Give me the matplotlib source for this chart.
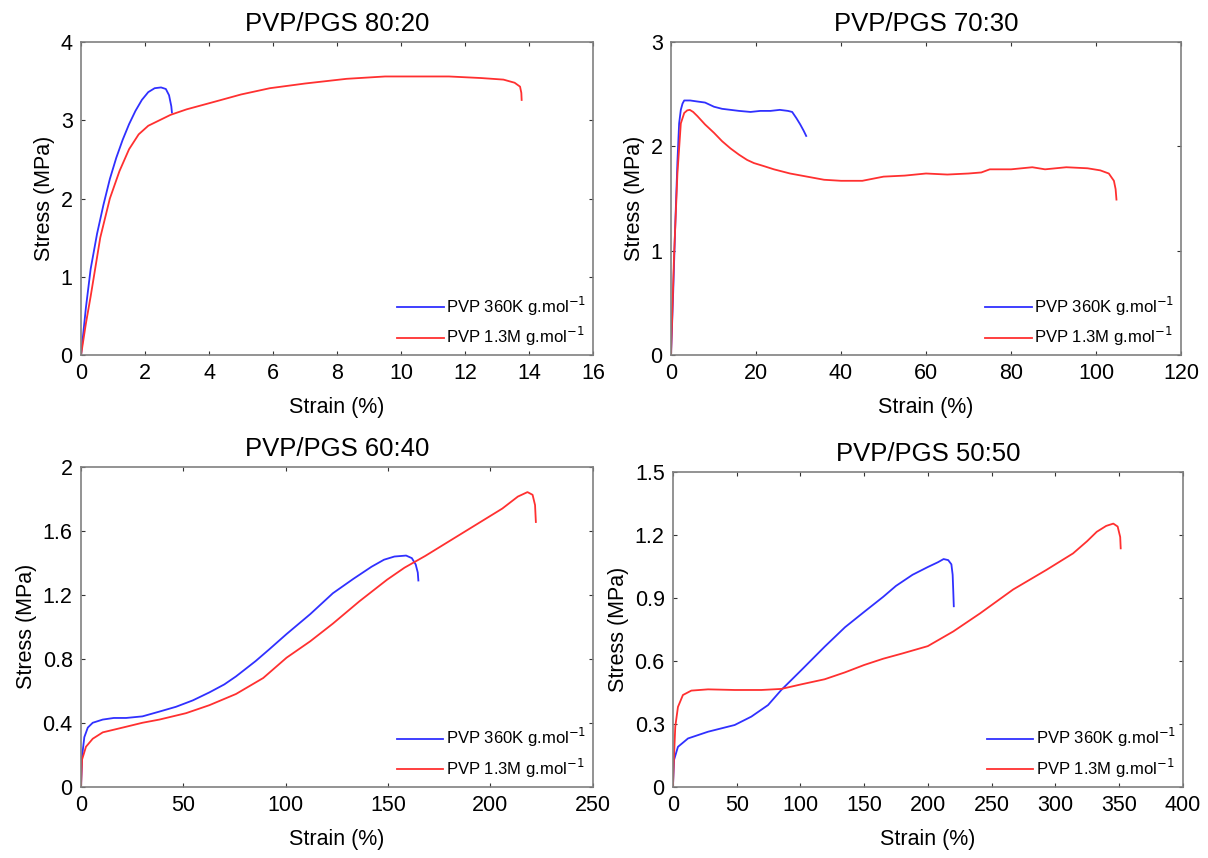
import matplotlib
matplotlib.use("Agg")
import matplotlib.pyplot as plt

plt.rcParams['font.family'] = ['Liberation Sans', 'DejaVu Sans']

# PVP/PGS 80:20
s80_360k_strain = [0, 0.15, 0.3, 0.5, 0.7, 0.9, 1.1, 1.3, 1.5, 1.7, 1.9, 2.1, 2.3, 2.5, 2.65, 2.75, 2.82, 2.84]
s80_360k_stress = [0, 0.6, 1.1, 1.55, 1.92, 2.25, 2.52, 2.75, 2.95, 3.12, 3.26, 3.36, 3.41, 3.42, 3.40, 3.32, 3.18, 3.1]
s80_13m_strain = [0, 0.15, 0.3, 0.6, 0.9, 1.2, 1.5, 1.8, 2.1, 2.4, 2.8, 3.3, 4.2, 5.0, 5.9, 7.0, 8.3, 9.5,
                  10.5, 11.5, 12.5, 13.2, 13.55, 13.72, 13.76, 13.77]
s80_13m_stress = [0, 0.4, 0.75, 1.5, 2.0, 2.35, 2.63, 2.82, 2.93, 2.99, 3.07, 3.14, 3.24, 3.33, 3.41, 3.47, 3.53, 3.56,
                  3.56, 3.56, 3.54, 3.52, 3.48, 3.43, 3.35, 3.26]

# PVP/PGS 70:30
s70_360k_strain = [0, 0.5, 1.0, 1.5, 1.9, 2.3, 2.7, 3.1, 4.5, 6.2, 8, 10.1, 12, 14, 16, 18.7, 21, 23.4, 25.6,
                   27.5, 28.5, 29.5, 30.4, 31.2, 31.8]
s70_360k_stress = [0, 0.6, 1.26, 1.85, 2.22, 2.35, 2.41, 2.44, 2.44, 2.43, 2.42, 2.38, 2.36, 2.35, 2.34, 2.33, 2.34,
                   2.34, 2.35, 2.34, 2.33, 2.27, 2.21, 2.15, 2.1]
s70_13m_strain = [0, 0.7, 1.5, 2.3, 3.1, 3.8, 4.4, 5.2, 6.2, 8, 10.1, 12, 14, 16, 17.9, 19.5, 21.9, 24.2, 28, 32, 36,
                  40, 45, 50, 55, 60, 65, 70, 73, 75, 80, 85, 88, 93, 98, 101, 103, 104.2, 104.6, 104.8]
s70_13m_stress = [0, 0.94, 1.74, 2.22, 2.32, 2.345, 2.35, 2.33, 2.29, 2.21, 2.13, 2.05, 1.98, 1.92, 1.87, 1.84, 1.81,
                  1.78, 1.74, 1.71, 1.68, 1.67, 1.67, 1.71, 1.72, 1.74, 1.73, 1.74, 1.75, 1.78, 1.78, 1.80, 1.78,
                  1.80, 1.79, 1.77, 1.74, 1.67, 1.59, 1.49]

# PVP/PGS 60:40
s60_360k_strain = [0, 0.5, 1.6, 3.3, 5.7, 10.6, 16, 22, 30, 38.3, 46.4, 54.6, 62.7, 70, 75.7, 85.3, 92, 100.4,
                   112, 123, 133, 141.9, 148, 153.1, 158.8, 161.6, 163.5, 164.5, 164.8]
s60_360k_stress = [0, 0.19, 0.31, 0.37, 0.40, 0.42, 0.43, 0.43, 0.44, 0.47, 0.50, 0.54, 0.59, 0.64, 0.69, 0.786,
                   0.86, 0.955, 1.08, 1.21, 1.30, 1.376, 1.42, 1.44, 1.446, 1.43, 1.39, 1.34, 1.29]
s60_13m_strain = [0, 0.5, 2.4, 5.7, 10.6, 22, 30, 38.3, 51.3, 62.7, 75.7, 89, 100.4, 112, 123, 136, 149.5, 158,
                  168.2, 187, 205.8, 213.4, 218.1, 220.6, 221.8, 222.2]
s60_13m_stress = [0, 0.17, 0.25, 0.30, 0.34, 0.375, 0.40, 0.42, 0.46, 0.51, 0.58, 0.68, 0.807, 0.91, 1.02, 1.16,
                  1.295, 1.37, 1.444, 1.592, 1.74, 1.815, 1.843, 1.826, 1.762, 1.656]

# PVP/PGS 50:50
s50_360k_strain = [0, 0.8, 3.9, 11.8, 27.5, 48.4, 61.5, 74.6, 85, 100.8, 119, 135, 150, 165, 175, 188, 200, 208,
                   212.4, 216, 218.5, 219.5, 220, 220.4]
s50_360k_stress = [0, 0.127, 0.19, 0.23, 0.262, 0.294, 0.334, 0.389, 0.461, 0.556, 0.667, 0.76, 0.833, 0.905,
                   0.957, 1.01, 1.047, 1.07, 1.085, 1.08, 1.06, 1.01, 0.93, 0.86]
s50_13m_strain = [0, 0.8, 1.8, 3.9, 7.8, 14.4, 27.5, 48.4, 69.4, 85, 100.8, 119, 135, 150, 165, 180, 200, 220,
                  241, 267, 293, 314, 325, 332.6, 340, 345.6, 349, 351, 351.4]
s50_13m_stress = [0, 0.143, 0.286, 0.38, 0.437, 0.458, 0.464, 0.461, 0.461, 0.466, 0.488, 0.512, 0.545, 0.58,
                  0.61, 0.635, 0.67, 0.74, 0.826, 0.94, 1.033, 1.112, 1.17, 1.215, 1.243, 1.254, 1.24, 1.19, 1.136]

titles = ['PVP/PGS 80:20', 'PVP/PGS 70:30', 'PVP/PGS 60:40', 'PVP/PGS 50:50']
legend_labels = ['PVP 360K g.mol$^{-1}$', 'PVP 1.3M g.mol$^{-1}$']
xlims = [16, 120, 250, 400]
ylims = [4, 3, 2, 1.5]
xticks = [range(0, 17, 2), range(0, 121, 20), range(0, 251, 50), range(0, 401, 50)]
yticks = [[0, 1, 2, 3, 4], [0, 1, 2, 3], [0, 0.4, 0.8, 1.2, 1.6, 2], [0, 0.3, 0.6, 0.9, 1.2, 1.5]]
ytick_labels = [['0', '1', '2', '3', '4'], ['0', '1', '2', '3'],
                ['0', '0.4', '0.8', '1.2', '1.6', '2'], ['0', '0.3', '0.6', '0.9', '1.2', '1.5']]

curves = [
    (s80_360k_strain, s80_360k_stress, s80_13m_strain, s80_13m_stress),
    (s70_360k_strain, s70_360k_stress, s70_13m_strain, s70_13m_stress),
    (s60_360k_strain, s60_360k_stress, s60_13m_strain, s60_13m_stress),
    (s50_360k_strain, s50_360k_stress, s50_13m_strain, s50_13m_stress),
]

boxes = [
    [0.0671, 0.5862, 0.4238, 0.3648],
    [0.5555, 0.5862, 0.4222, 0.3648],
    [0.0671, 0.0831, 0.4236, 0.3726],
    [0.5571, 0.0831, 0.4219, 0.3668],
]

fig = plt.figure(figsize=(12.08, 8.58), dpi=100)

for i in range(4):
    ax = fig.add_axes(boxes[i])
    bx, by, rx, ry = curves[i]
    ax.plot(bx, by, color='#3030ff', lw=1.3, label=legend_labels[0])
    ax.plot(rx, ry, color='#ff3030', lw=1.3, label=legend_labels[1])
    ax.set_xlim(0, xlims[i])
    ax.set_ylim(0, ylims[i])
    ax.set_xticks(list(xticks[i]))
    ax.set_yticks(yticks[i])
    ax.set_yticklabels(ytick_labels[i])
    ax.tick_params(direction='in', top=True, right=True, length=3, width=0.8,
                   labelsize=15.5, color='#333333', pad=6)
    for sp in ax.spines.values():
        sp.set_color('#808080')
        sp.set_linewidth(1.2)
    ax.set_title(titles[i], fontsize=18.5, pad=8)
    ax.set_xlabel('Strain (%)', fontsize=15.5, labelpad=9)
    ax.set_ylabel('Stress (MPa)', fontsize=15.5, labelpad=4)
    ax.legend(loc='lower right', frameon=False, fontsize=12, handlelength=2.8,
              handletextpad=0.15, labelspacing=0.45, borderaxespad=0.0)

fig.savefig('out.png', dpi=100)
